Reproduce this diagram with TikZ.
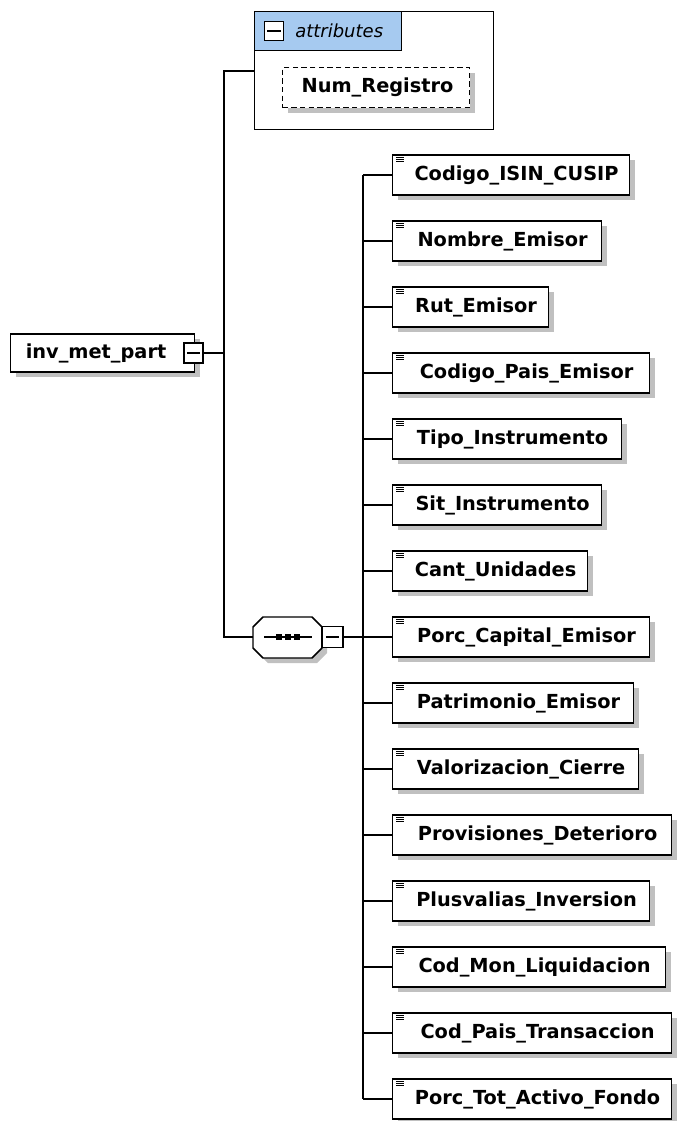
\documentclass[tikz,border=0pt]{standalone}
\usepackage{fontspec}
\setmainfont{DejaVu Sans}
\usetikzlibrary{shadows}
\definecolor{shadowgray}{RGB}{192,192,192}
\definecolor{tabblue}{RGB}{166,202,240}
\tikzset{
  px/.style={x=0.75pt,y=-0.75pt},
  shad/.style={drop shadow={shadow xshift=3.75pt,shadow yshift=-3.75pt,fill=shadowgray,opacity=1}},
  elembox/.style={draw=black,line width=1.1pt,fill=white,minimum height=30pt,inner sep=0pt,anchor=west,shad},
  elemtext/.style={font=\bfseries\fontsize{14.5pt}{17pt}\selectfont,inner sep=0pt},
  conn/.style={draw=black,line width=1pt},
  btn/.style={draw=black,line width=0.9pt,fill=white,minimum width=14.25pt,minimum height=15pt,inner sep=0pt}
}
\begin{document}
\begin{tikzpicture}[px]
\useasboundingbox (0,0) rectangle (683,1121);
% attributes group
\node[draw=black,line width=1.1pt,fill=white,minimum width=179.25pt,minimum height=88.5pt,inner sep=0pt,anchor=north west] (attrgrp) at (254,11) {};
\node[draw=black,line width=1.1pt,fill=tabblue,minimum width=110.25pt,minimum height=29.25pt,inner sep=0pt,anchor=north west] (attrtab) at (254,11) {};
\node[draw=black,line width=0.9pt,fill=white,minimum width=14pt,minimum height=14pt,inner sep=0pt] (attrbtn) at (274,31) {};
\draw[line width=0.9pt] ([xshift=-5pt]attrbtn.center) -- ([xshift=5pt]attrbtn.center);
\node[anchor=west,inner sep=0pt,font=\itshape\fontsize{13.5pt}{15pt}\selectfont] (attrlbl) at (295,31) {attributes};
\node[draw=black,dash pattern=on 4pt off 2.5pt,line width=1pt,fill=white,minimum width=140.25pt,minimum height=30pt,inner sep=0pt,anchor=north west,shad] (numreg) at (282,67) {};
\node[elemtext] at ([xshift=1pt]numreg.center) {Num\_Registro};
% root
\node[draw=black,line width=1.1pt,fill=white,minimum width=138pt,minimum height=28.5pt,inner sep=0pt,anchor=west,shad] (root) at (10,353) {};
\node[elemtext] at ([xshift=-5pt]root.center) {inv\_met\_part};
\node[btn] (rootbtn) at (193.5,353) {};
\draw[line width=0.9pt] ([xshift=-5pt]rootbtn.center) -- ([xshift=5pt]rootbtn.center);
% sequence
\path[draw=black,line width=1.1pt,fill=white,shad] (253,627) -- (263,617) -- (312,617) -- (322,627) -- (322,648) -- (312,658) -- (263,658) -- (253,648) -- cycle;
\coordinate (seqw) at (253,637);
\node[inner sep=0pt,minimum width=51.75pt,minimum height=30.75pt] (seq) at (287.5,637) {};
\draw[line width=0.9pt] (264,637) -- (312,637);
\foreach \dx in {-9,0,9} \fill (287.5+\dx-3,634) rectangle (287.5+\dx+3,640);
\node[btn,minimum width=15.75pt,minimum height=15.75pt] (seqbtn) at (332.5,637) {};
\draw[line width=0.9pt] ([xshift=-5pt]seqbtn.center) -- ([xshift=5pt]seqbtn.center);
% root connectors
\coordinate (trunk) at (224,353);
\draw[conn] (rootbtn.east) -- (trunk);
\draw[conn] (attrgrp.west |- 0,71) -| (trunk) |- (seqw);
% elements
\coordinate (bus) at (363,637);
\foreach \i/\name/\w in {
 1/Codigo\_ISIN\_CUSIP/237,
 2/Nombre\_Emisor/209,
 3/Rut\_Emisor/156,
 4/Codigo\_Pais\_Emisor/257,
 5/Tipo\_Instrumento/229,
 6/Sit\_Instrumento/209,
 7/Cant\_Unidades/195,
 8/Porc\_Capital\_Emisor/257,
 9/Patrimonio\_Emisor/241,
 10/Valorizacion\_Cierre/246,
 11/Provisiones\_Deterioro/279,
 12/Plusvalias\_Inversion/257,
 13/Cod\_Mon\_Liquidacion/273,
 14/Cod\_Pais\_Transaccion/279,
 15/Porc\_Tot\_Activo\_Fondo/279}{
  \pgfmathsetmacro{\yy}{175+66*(\i-1)}
  \node[elembox,minimum width=\w*0.75pt] (e\i) at (392,\yy) {};
  \node[elemtext] (t\i) at ([xshift=4pt,yshift=-0.5pt]e\i.center) {\name};
  \draw[line width=0.7pt] ([xshift=3pt,yshift=-2.2pt]e\i.north west) -- ++(6pt,0)
     ([xshift=3pt,yshift=-3.7pt]e\i.north west) -- ++(6pt,0)
     ([xshift=3pt,yshift=-5.2pt]e\i.north west) -- ++(6pt,0);
  \draw[conn] (e\i.west) -- (bus |- e\i.west);
}
\draw[conn] (bus |- e1.west) -- (bus |- e15.west);
\draw[conn] (seqbtn.east) -- (bus);
\end{tikzpicture}
\end{document}
